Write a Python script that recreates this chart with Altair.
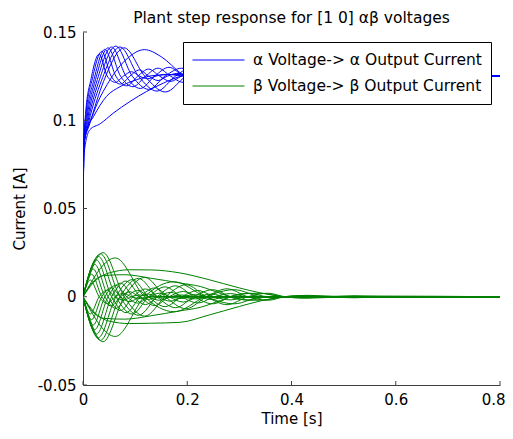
import altair as alt
import pandas as pd

ALPHA = "α Voltage-> α Output Current"
BETA = "β Voltage-> β Output Current"
TITLE = "Plant step response for [1 0] αβ voltages"

X_TICKS = [0, 0.2, 0.4, 0.6, 0.8]
Y_TICKS = [-0.05, 0, 0.05, 0.1, 0.15]

# ---- alpha current (blue) curves: time [s], current [A] ----
T_B0 = [0, 0.0015, 0.005, 0.0155, 0.031, 0.0465, 0.062, 0.0775, 0.093, 0.1085, 0.124, 0.14, 0.16, 0.2, 0.8]
V_B0 = [0, 0.086, 0.104, 0.1235, 0.1375, 0.125, 0.1215, 0.125, 0.1275, 0.125, 0.1235, 0.125, 0.126, 0.125, 0.125]
T_B1 = [0, 0.0015, 0.006, 0.018, 0.036, 0.054, 0.072, 0.09, 0.108, 0.126, 0.144, 0.162, 0.18, 0.22, 0.8]
V_B1 = [0, 0.086, 0.104, 0.1235, 0.139, 0.125, 0.1205, 0.125, 0.1285, 0.125, 0.1225, 0.125, 0.1265, 0.125, 0.125]
T_B2 = [0, 0.0015, 0.007, 0.021, 0.042, 0.063, 0.084, 0.105, 0.126, 0.147, 0.168, 0.189, 0.21, 0.25, 0.8]
V_B2 = [0, 0.086, 0.103, 0.123, 0.1402, 0.125, 0.1195, 0.125, 0.129, 0.125, 0.122, 0.125, 0.127, 0.125, 0.125]
T_B3 = [0, 0.0015, 0.008, 0.024, 0.048, 0.072, 0.096, 0.12, 0.144, 0.168, 0.192, 0.216, 0.24, 0.3, 0.8]
V_B3 = [0, 0.086, 0.102, 0.123, 0.141, 0.125, 0.119, 0.125, 0.1295, 0.125, 0.1215, 0.125, 0.127, 0.125, 0.125]
T_B4 = [0, 0.0015, 0.009, 0.0275, 0.055, 0.0825, 0.11, 0.1375, 0.165, 0.1925, 0.22, 0.2475, 0.275, 0.34, 0.8]
V_B4 = [0, 0.086, 0.101, 0.123, 0.1415, 0.125, 0.118, 0.125, 0.130, 0.125, 0.121, 0.125, 0.1275, 0.125, 0.125]
T_B5 = [0, 0.0015, 0.010, 0.0315, 0.063, 0.0945, 0.126, 0.1575, 0.189, 0.2205, 0.252, 0.2835, 0.315, 0.4, 0.8]
V_B5 = [0, 0.086, 0.100, 0.123, 0.142, 0.125, 0.1175, 0.125, 0.1295, 0.125, 0.1205, 0.125, 0.1275, 0.125, 0.125]
T_B6 = [0, 0.0015, 0.011, 0.0355, 0.071, 0.1065, 0.142, 0.1775, 0.213, 0.2485, 0.284, 0.3195, 0.355, 0.45, 0.8]
V_B6 = [0, 0.086, 0.099, 0.1225, 0.1415, 0.125, 0.1165, 0.125, 0.1305, 0.125, 0.120, 0.125, 0.128, 0.125, 0.125]
T_B7 = [0, 0.0015, 0.013, 0.0395, 0.079, 0.1185, 0.158, 0.1975, 0.237, 0.2765, 0.316, 0.3555, 0.395, 0.5, 0.8]
V_B7 = [0, 0.086, 0.098, 0.122, 0.141, 0.125, 0.116, 0.125, 0.131, 0.125, 0.120, 0.125, 0.128, 0.125, 0.125]
T_B8 = [0, 0.0015, 0.02, 0.05, 0.085, 0.118, 0.15, 0.19, 0.235, 0.28, 0.33, 0.4, 0.5, 0.8]
V_B8 = [0, 0.086, 0.104, 0.122, 0.135, 0.1400, 0.136, 0.126, 0.118, 0.117, 0.122, 0.127, 0.1255, 0.125]
T_B9 = [0, 0.0015, 0.013, 0.033, 0.058, 0.09, 0.122, 0.154, 0.186, 0.25, 0.35, 0.5, 0.8]
V_B9 = [0, 0.080, 0.0946, 0.098, 0.104, 0.1106, 0.1163, 0.121, 0.1248, 0.1275, 0.127, 0.1255, 0.125]
T_B10 = [0, 0.0015, 0.008, 0.02, 0.045, 0.071, 0.103, 0.14, 0.186, 0.25, 0.35, 0.5, 0.8]
V_B10 = [0, 0.085, 0.095, 0.102, 0.1135, 0.119, 0.123, 0.1255, 0.126, 0.1262, 0.1255, 0.125, 0.125]

# ---- beta current (green) curves: upper and lower branches ----
T_G0 = [0, 0.014, 0.031, 0.0465, 0.062, 0.0775, 0.093, 0.11, 0.13, 0.8]
U_G0 = [0, 0.0095, 0, -0.0038, 0, 0.002, 0, -0.001, 0, 0]
D_G0 = [0, -0.0097, 0, 0.0037, 0, -0.002, 0, 0.001, 0, 0]
T_G1 = [0, 0.0165, 0.036, 0.054, 0.072, 0.09, 0.108, 0.126, 0.144, 0.17, 0.8]
U_G1 = [0, 0.0128, 0, -0.0052, 0, 0.0028, 0, -0.0015, 0, 0, 0]
D_G1 = [0, -0.013, 0, 0.0051, 0, -0.0028, 0, 0.0015, 0, 0, 0]
T_G2 = [0, 0.0195, 0.042, 0.063, 0.084, 0.105, 0.126, 0.147, 0.168, 0.189, 0.21, 0.8]
U_G2 = [0, 0.0157, 0, -0.0066, 0, 0.0036, 0, -0.002, 0, 0.001, 0, 0]
D_G2 = [0, -0.016, 0, 0.0065, 0, -0.0036, 0, 0.002, 0, -0.001, 0, 0]
T_G3 = [0, 0.0225, 0.048, 0.072, 0.096, 0.12, 0.144, 0.168, 0.192, 0.216, 0.24, 0.8]
U_G3 = [0, 0.0183, 0, -0.0078, 0, 0.0044, 0, -0.0025, 0, 0.0012, 0, 0]
D_G3 = [0, -0.0186, 0, 0.0077, 0, -0.0044, 0, 0.0025, 0, -0.0012, 0, 0]
T_G4 = [0, 0.026, 0.055, 0.0825, 0.11, 0.1375, 0.165, 0.1925, 0.22, 0.2475, 0.275, 0.8]
U_G4 = [0, 0.0208, 0, -0.009, 0, 0.005, 0, -0.003, 0, 0.0015, 0, 0]
D_G4 = [0, -0.0212, 0, 0.0089, 0, -0.005, 0, 0.003, 0, -0.0015, 0, 0]
T_G5 = [0, 0.0295, 0.063, 0.0945, 0.126, 0.1575, 0.189, 0.2205, 0.252, 0.2835, 0.315, 0.8]
U_G5 = [0, 0.0228, 0, -0.0098, 0, 0.0056, 0, -0.0035, 0, 0.0018, 0, 0]
D_G5 = [0, -0.0232, 0, 0.0097, 0, -0.0056, 0, 0.0035, 0, -0.0018, 0, 0]
T_G6 = [0, 0.0335, 0.071, 0.1065, 0.142, 0.1775, 0.213, 0.2485, 0.284, 0.3195, 0.355, 0.8]
U_G6 = [0, 0.0243, 0, -0.0105, 0, 0.0062, 0, -0.004, 0, 0.002, 0, 0]
D_G6 = [0, -0.0247, 0, 0.0104, 0, -0.0062, 0, 0.004, 0, -0.002, 0, 0]
T_G7 = [0, 0.0385, 0.079, 0.1185, 0.158, 0.1975, 0.237, 0.2765, 0.316, 0.3555, 0.39, 0.8]
U_G7 = [0, 0.0250, 0, -0.011, 0, 0.0068, 0, -0.0045, 0, 0.002, 0, 0]
D_G7 = [0, -0.0255, 0, 0.011, 0, -0.0068, 0, 0.0045, 0, -0.002, 0, 0]
T_G8 = [0, 0.062, 0.118, 0.175, 0.235, 0.29, 0.345, 0.39, 0.8]
U_G8 = [0, 0.022, 0, -0.0085, 0, 0.004, 0, 0, 0]
D_G8 = [0, -0.0225, 0, 0.0085, 0, -0.004, 0, 0, 0]
T_G9 = [0, 0.02, 0.05, 0.09, 0.13, 0.186, 0.24, 0.3, 0.34, 0.385, 0.42, 0.47, 0.52, 0.58, 0.65, 0.8]
U_G9 = [0, 0.008, 0.0135, 0.0153, 0.0152, 0.0135, 0.0098, 0.005, 0.0022, 0, -0.0007, 0, 0.0006, 0, 0, 0]
D_G9 = [0, -0.0082, -0.0138, -0.0152, -0.015, -0.0145, -0.0105, -0.0055, -0.0024, 0, 0.0007, 0, -0.0006, 0, 0, 0]
T_G10 = [0, 0.015, 0.04, 0.08, 0.13, 0.186, 0.225, 0.263, 0.3, 0.34, 0.385, 0.43, 0.5, 0.56, 0.8]
U_G10 = [0, 0.007, 0.012, 0.0125, 0.0105, 0.0078, 0.0058, 0.002, -0.0015, -0.002, 0, 0.0008, 0, -0.0004, 0]
D_G10 = [0, -0.0072, -0.0122, -0.0127, -0.0108, -0.008, -0.006, -0.0022, 0.0015, 0.002, 0, -0.0008, 0, 0.0004, 0]

CURVES = [
    ("g0u", BETA, T_G0, U_G0), ("g0d", BETA, T_G0, D_G0),
    ("g1u", BETA, T_G1, U_G1), ("g1d", BETA, T_G1, D_G1),
    ("g2u", BETA, T_G2, U_G2), ("g2d", BETA, T_G2, D_G2),
    ("g3u", BETA, T_G3, U_G3), ("g3d", BETA, T_G3, D_G3),
    ("g4u", BETA, T_G4, U_G4), ("g4d", BETA, T_G4, D_G4),
    ("g5u", BETA, T_G5, U_G5), ("g5d", BETA, T_G5, D_G5),
    ("g6u", BETA, T_G6, U_G6), ("g6d", BETA, T_G6, D_G6),
    ("g7u", BETA, T_G7, U_G7), ("g7d", BETA, T_G7, D_G7),
    ("g8u", BETA, T_G8, U_G8), ("g8d", BETA, T_G8, D_G8),
    ("g9u", BETA, T_G9, U_G9), ("g9d", BETA, T_G9, D_G9),
    ("g10u", BETA, T_G10, U_G10), ("g10d", BETA, T_G10, D_G10),
    ("b0", ALPHA, T_B0, V_B0), ("b1", ALPHA, T_B1, V_B1),
    ("b2", ALPHA, T_B2, V_B2), ("b3", ALPHA, T_B3, V_B3),
    ("b4", ALPHA, T_B4, V_B4), ("b5", ALPHA, T_B5, V_B5),
    ("b6", ALPHA, T_B6, V_B6), ("b7", ALPHA, T_B7, V_B7),
    ("b8", ALPHA, T_B8, V_B8), ("b9", ALPHA, T_B9, V_B9),
    ("b10", ALPHA, T_B10, V_B10),
]

rows = []
for name, series, ts, vs in CURVES:
    for i, (t, v) in enumerate(zip(ts, vs)):
        rows.append({"curve": name, "series": series, "t": t, "v": v, "i": i})
df = pd.DataFrame(rows)
xt_df = pd.DataFrame({"t": X_TICKS})
yt_df = pd.DataFrame({"v": Y_TICKS})

FONT = "DejaVu Sans"
AXIS_COLOR = "#404040"
x_scale = alt.Scale(domain=[0, 0.8], nice=False, zero=False)
y_scale = alt.Scale(domain=[-0.05, 0.15], nice=False, zero=False)
LABEL_EXPR = "replace(format(datum.value, '~g'), '\u2212', '-')"

x_axis = alt.Axis(title="Time [s]", values=X_TICKS, labelExpr=LABEL_EXPR, ticks=False,
                  grid=False, labelPadding=7, titlePadding=4, domainColor=AXIS_COLOR,
                  labelFlush=False, labelOverlap=False,
                  labelAlign={"condition": {"test": "datum.value >= 0.79", "value": "right"},
                              "value": "center"},
                  labelOffset={"condition": {"test": "datum.value >= 0.79", "value": 5},
                               "value": 0},
                  labelFont=FONT, titleFont=FONT, labelFontSize=15, titleFontSize=15,
                  titleFontWeight="normal", labelColor="black", titleColor="black")
y_axis = alt.Axis(title="Current [A]", values=Y_TICKS, labelExpr=LABEL_EXPR, ticks=False,
                  grid=False, labelPadding=7, titlePadding=10, domainColor=AXIS_COLOR,
                  labelFlush=False, labelOverlap=False,
                  labelFont=FONT, titleFont=FONT, labelFontSize=15, titleFontSize=15,
                  titleFontWeight="normal", labelColor="black", titleColor="black")

lines = alt.Chart(df).mark_line(interpolate="monotone", strokeWidth=1, clip=True).encode(
    x=alt.X("t:Q", scale=x_scale, axis=x_axis),
    y=alt.Y("v:Q", scale=y_scale, axis=y_axis),
    color=alt.Color("series:N",
                    scale=alt.Scale(domain=[ALPHA, BETA], range=["#0000ff", "#008000"]),
                    legend=alt.Legend(title=None, orient="none", legendX=100, legendY=10,
                                      fillColor="white", strokeColor="black", padding=9,
                                      symbolType="stroke", symbolSize=2704, symbolStrokeWidth=1,
                                      clipHeight=18, labelLimit=500,
                                      labelFontSize=15.5, labelFont=FONT, labelOffset=8,
                                      rowPadding=8, labelColor="black")),
    detail="curve:N",
    order="i:Q",
)

yticks = alt.Chart(yt_df).mark_rule(color=AXIS_COLOR).encode(
    y=alt.Y("v:Q", scale=y_scale, axis=y_axis), x=alt.value(0), x2=alt.value(4))
xticks = alt.Chart(xt_df).mark_rule(color=AXIS_COLOR).encode(
    x=alt.X("t:Q", scale=x_scale, axis=x_axis), y=alt.value(353), y2=alt.value(349))

chart = alt.layer(lines, yticks, xticks).properties(
    width=417, height=353,
    autosize=alt.AutoSizeParams(type="none"),
    padding={"left": 75, "top": 24, "right": 5, "bottom": 46},
    background="white",
    title=alt.Title(TITLE, fontSize=15.5, fontWeight="normal", font=FONT, anchor="middle",
                    baseline="alphabetic", offset=4, dy=17, color="black"),
).configure_view(stroke=None)

chart.save("out.html", embed_options={"renderer": "svg", "actions": False})
